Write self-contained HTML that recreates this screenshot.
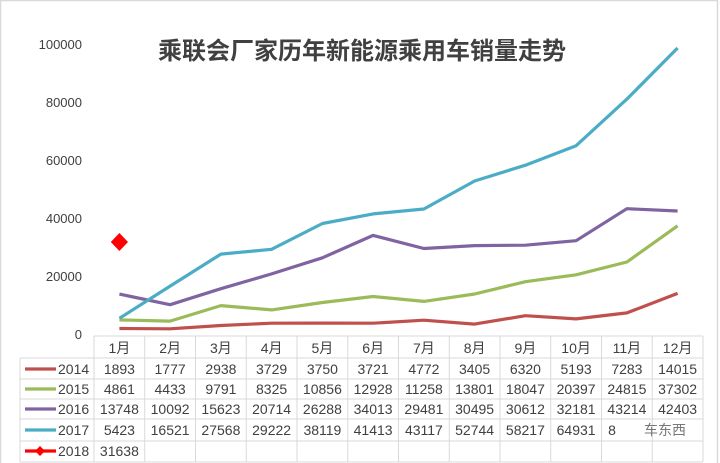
<!DOCTYPE html>
<html><head><meta charset="utf-8"><style>
html,body{margin:0;padding:0;background:#fff}
svg{display:block}
text{font-family:"Liberation Sans","Noto Sans CJK SC",sans-serif}
</style></head><body>
<svg width="720" height="463" viewBox="0 0 720 463" xmlns="http://www.w3.org/2000/svg">
<rect x="0.5" y="0.5" width="717" height="470" fill="#fff" stroke="#d9d9d9" stroke-width="1.5"/>
<text x="362" y="59" font-size="24" font-weight="bold" fill="#404040" text-anchor="middle">乘联会厂家历年新能源乘用车销量走势</text>
<g font-size="13" fill="#404040" text-anchor="end">
<text x="82" y="49">100000</text><text x="82" y="107">80000</text><text x="82" y="165">60000</text>
<text x="82" y="223">40000</text><text x="82" y="281">20000</text><text x="82" y="339">0</text>
</g>
<g fill="none" stroke-width="3.2" stroke-linejoin="round">
<polyline stroke="#c0504d" points="119.4,328.5 170.1,328.8 220.9,325.5 271.6,323.2 322.4,323.1 373.1,323.2 423.9,320.2 474.6,324.1 525.4,315.7 576.1,318.9 626.9,312.9 677.6,293.4"/>
<polyline stroke="#9bbb59" points="119.4,319.9 170.1,321.1 220.9,305.6 271.6,309.9 322.4,302.5 373.1,296.5 423.9,301.4 474.6,294 525.4,281.7 576.1,274.8 626.9,262 677.6,225.8"/>
<polyline stroke="#8064a2" points="119.4,294.1 170.1,304.7 220.9,288.7 271.6,273.9 322.4,257.8 373.1,235.4 423.9,248.5 474.6,245.6 525.4,245.2 576.1,240.7 626.9,208.7 677.6,211"/>
<polyline stroke="#4bacc6" points="119.4,318.3 170.1,286.1 220.9,254.1 271.6,249.3 322.4,223.5 373.1,213.9 423.9,209 474.6,181 525.4,165.2 576.1,145.7 626.9,99.1 677.6,48"/>
</g>
<polygon points="119.4,233 128,242 119.4,251 110.8,242" fill="#ff0000"/>
<g stroke="#d9d9d9" stroke-width="1">
<line x1="94" y1="336" x2="703" y2="336"/>
<line x1="20" y1="358" x2="703" y2="358"/>
<line x1="20" y1="379" x2="703" y2="379"/>
<line x1="20" y1="399" x2="703" y2="399"/>
<line x1="20" y1="419" x2="703" y2="419"/>
<line x1="20" y1="441" x2="703" y2="441"/>
<line x1="20" y1="462" x2="703" y2="462"/>
<line x1="20" y1="358" x2="20" y2="462"/>
<line x1="94" y1="336" x2="94" y2="462"/><line x1="144.75" y1="336" x2="144.75" y2="462"/>
<line x1="195.5" y1="336" x2="195.5" y2="462"/><line x1="246.25" y1="336" x2="246.25" y2="462"/>
<line x1="297" y1="336" x2="297" y2="462"/><line x1="347.75" y1="336" x2="347.75" y2="462"/>
<line x1="398.5" y1="336" x2="398.5" y2="462"/><line x1="449.25" y1="336" x2="449.25" y2="462"/>
<line x1="500" y1="336" x2="500" y2="462"/><line x1="550.75" y1="336" x2="550.75" y2="462"/>
<line x1="601.5" y1="336" x2="601.5" y2="462"/><line x1="652.25" y1="336" x2="652.25" y2="462"/>
<line x1="703" y1="336" x2="703" y2="462"/>
</g>
<g font-size="14" fill="#404040" text-anchor="middle">
<text x="119.4" y="353">1月</text><text x="170.1" y="353">2月</text><text x="220.9" y="353">3月</text><text x="271.6" y="353">4月</text><text x="322.4" y="353">5月</text><text x="373.1" y="353">6月</text><text x="423.9" y="353">7月</text><text x="474.6" y="353">8月</text><text x="525.4" y="353">9月</text><text x="576.1" y="353">10月</text><text x="626.9" y="353">11月</text><text x="677.6" y="353">12月</text>
<text x="119.4" y="374">1893</text><text x="170.1" y="374">1777</text><text x="220.9" y="374">2938</text><text x="271.6" y="374">3729</text><text x="322.4" y="374">3750</text><text x="373.1" y="374">3721</text><text x="423.9" y="374">4772</text><text x="474.6" y="374">3405</text><text x="525.4" y="374">6320</text><text x="576.1" y="374">5193</text><text x="626.9" y="374">7283</text><text x="677.6" y="374">14015</text>
<text x="119.4" y="394">4861</text><text x="170.1" y="394">4433</text><text x="220.9" y="394">9791</text><text x="271.6" y="394">8325</text><text x="322.4" y="394">10856</text><text x="373.1" y="394">12928</text><text x="423.9" y="394">11258</text><text x="474.6" y="394">13801</text><text x="525.4" y="394">18047</text><text x="576.1" y="394">20397</text><text x="626.9" y="394">24815</text><text x="677.6" y="394">37302</text>
<text x="119.4" y="414">13748</text><text x="170.1" y="414">10092</text><text x="220.9" y="414">15623</text><text x="271.6" y="414">20714</text><text x="322.4" y="414">26288</text><text x="373.1" y="414">34013</text><text x="423.9" y="414">29481</text><text x="474.6" y="414">30495</text><text x="525.4" y="414">30612</text><text x="576.1" y="414">32181</text><text x="626.9" y="414">43214</text><text x="677.6" y="414">42403</text>
<text x="119.4" y="435">5423</text><text x="170.1" y="435">16521</text><text x="220.9" y="435">27568</text><text x="271.6" y="435">29222</text><text x="322.4" y="435">38119</text><text x="373.1" y="435">41413</text><text x="423.9" y="435">43117</text><text x="474.6" y="435">52744</text><text x="525.4" y="435">58217</text><text x="576.1" y="435">64931</text><text x="612" y="435">8</text><text x="665" y="435" fill="#777">车东西</text>
<text x="119.4" y="456">31638</text>
</g>
<g stroke-width="3.2">
<line x1="25" y1="369" x2="56" y2="369" stroke="#c0504d"/>
<line x1="25" y1="389" x2="56" y2="389" stroke="#9bbb59"/>
<line x1="25" y1="409" x2="56" y2="409" stroke="#8064a2"/>
<line x1="25" y1="430" x2="56" y2="430" stroke="#4bacc6"/>
<line x1="25" y1="451" x2="56" y2="451" stroke="#ff0000"/>
</g>
<polygon points="40,446 45,451 40,456 35,451" fill="#ff0000"/>
<g font-size="14" fill="#404040">
<text x="58" y="374">2014</text><text x="58" y="394">2015</text><text x="58" y="414">2016</text><text x="58" y="435">2017</text><text x="58" y="456">2018</text>
</g>
</svg>
</body></html>
